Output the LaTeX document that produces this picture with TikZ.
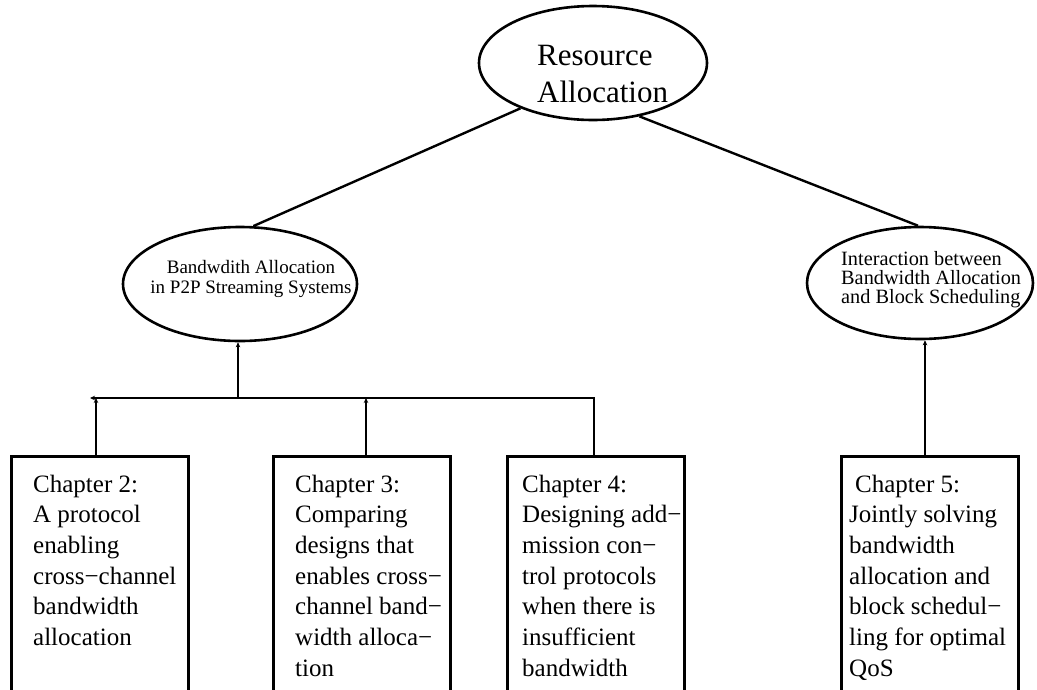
\documentclass[tikz,border=0pt]{standalone}
\usepackage{fontspec}
\setmainfont{Liberation Serif}
\usetikzlibrary{arrows.meta,shapes.geometric}
\begin{document}
\begin{tikzpicture}[x=1pt,y=-1pt,
  oval/.style={draw, ellipse, line width=2.6pt, inner sep=0pt},
  chapbox/.style={draw, rectangle, line width=3pt, anchor=north, inner sep=0pt, minimum width=177pt, minimum height=320pt},
  link/.style={line width=2.4pt},
  tip/.style={-{Stealth[length=5pt,width=4.5pt]}},
  txt/.style={anchor=base west, inner sep=0pt}
]
\useasboundingbox[fill=white] (0,0) rectangle (1037,689);

% ellipses
\node[oval, minimum width=228pt, minimum height=114pt] (top) at (593,63) {};
\node[oval, minimum width=234pt, minimum height=114pt] (left) at (240,284) {};
\node[oval, minimum width=226pt, minimum height=112pt] (right) at (920,283) {};

% ellipse texts
\node[txt] (toptext) at (537,65) {\parbox[t]{200pt}{\fontsize{31}{37}\selectfont\raggedright Resource\\Allocation}};
\node[anchor=base, inner sep=0pt] (lefttext) at (251,273) {\parbox[t]{240pt}{\fontsize{19}{20.5}\selectfont\centering Bandwdith Allocation\\in P2P Streaming Systems}};
\node[txt] (righttext) at (841,265) {\parbox[t]{200pt}{\fontsize{20.3}{19}\selectfont\raggedright Interaction between\\Bandwidth Allocation\\and Block Scheduling}};

% chapter boxes
\node[chapbox] (c2) at (100,455) {};
\node[chapbox] (c3) at (362,455) {};
\node[chapbox] (c4) at (596,455) {};
\node[chapbox] (c5) at (930,455) {};

\node[txt] (c2t) at (33,492) {\parbox[t]{200pt}{\fontsize{25}{30.7}\selectfont\raggedright Chapter 2:\\A protocol\\enabling\\cross−channel\\bandwidth\\allocation}};
\node[txt] (c3t) at (295,492) {\parbox[t]{200pt}{\fontsize{25}{30.7}\selectfont\raggedright Chapter 3:\\Comparing\\designs that\\enables cross−\\channel band−\\width alloca−\\tion}};
\node[txt] (c4t) at (522,492) {\parbox[t]{200pt}{\fontsize{25}{30.7}\selectfont\raggedright Chapter 4:\\Designing add−\\mission con−\\trol protocols\\when there is\\insufficient\\bandwidth}};
\node[txt] (c5t) at (849,492) {\parbox[t]{200pt}{\fontsize{25}{30.7}\selectfont\raggedright\hspace*{6pt}Chapter 5:\\Jointly solving\\bandwidth\\allocation and\\block schedul−\\ling for optimal\\QoS}};

% bus coordinates
\coordinate (bL) at (90,398);
\coordinate (b2) at (96,398);
\coordinate (b3) at (366,398);
\coordinate (bR) at (594,398);
\coordinate (bJ) at (238,398);
\coordinate (v5) at (925,398);

% connectors
\draw[link] (top.212) -- (left.77);
\draw[link] (top.311) -- (right.92);
\draw[link, tip] (c4.north -| bR) -- (bR) -- (bL);
\draw[link, tip] (c2.north -| b2) -- (b2);
\draw[link, tip] (c3.north -| b3) -- (b3);
\draw[link, tip] (bJ) -- (bJ |- left.south);
\draw[link, tip] (c5.north -| v5) -- (v5 |- right.south);
\end{tikzpicture}
\end{document}
